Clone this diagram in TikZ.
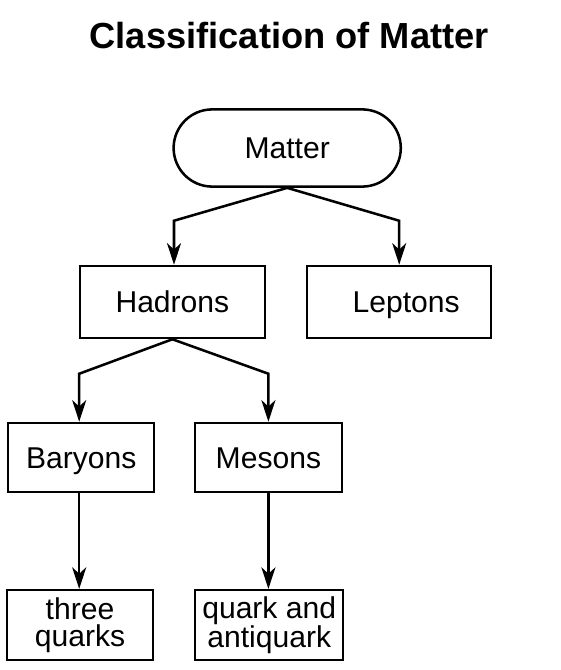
\documentclass[tikz,border=0pt]{standalone}
\usepackage{fontspec}
\setmainfont{Liberation Sans}
\usetikzlibrary{arrows.meta,positioning,shapes.misc}

\begin{document}
\begin{tikzpicture}[x=1cm,y=1cm]
\tikzset{
  boxnode/.style={rectangle,draw=black,line width=1.8pt,inner sep=1pt,align=center,font=\fontsize{21.4}{19.4}\selectfont},
  onelinenode/.style={boxnode,text height=15.4pt,text depth=0pt},
  rootnode/.style={onelinenode,rounded rectangle,minimum width=5.75cm,minimum height=1.93cm},
  titlenode/.style={font=\fontsize{25.8}{30}\selectfont\bfseries},
  flowedge/.style={draw=black,line width=1.8pt,line cap=round,line join=miter,-{Stealth[length=5.4mm,width=3.5mm,inset=1.6mm]}}
}
\useasboundingbox (0,0) rectangle (14,-16.75);
\node[titlenode] (n_title) at (7.23,-0.88) {Classification of Matter};
\node[rootnode] (n_matter) at (7.18,-3.70) {Matter};
\node[onelinenode,minimum width=4.63cm,minimum height=1.80cm] (n_hadrons) at (4.31,-7.55) {Hadrons};
\node[onelinenode,minimum width=4.60cm,minimum height=1.80cm] (n_leptons) at (9.98,-7.55) {\hspace*{0.35cm}Leptons};
\node[onelinenode,minimum width=3.65cm,minimum height=1.73cm] (n_baryons) at (2.03,-11.44) {Baryons};
\node[onelinenode,minimum width=3.68cm,minimum height=1.73cm] (n_mesons) at (6.71,-11.44) {Mesons};
\node[boxnode,minimum width=3.65cm,minimum height=1.75cm] (n_three) at (2.00,-15.63) {three\\quarks};
\node[boxnode,minimum width=3.70cm,minimum height=1.75cm] (n_pair) at (6.73,-15.63) {quark and\\antiquark};
\draw[flowedge] (n_matter.south) -- ([xshift=0.04cm,yshift=1.1cm]n_hadrons.north) -- ([xshift=0.04cm]n_hadrons.north);
\draw[flowedge] (n_matter.south) -- ([yshift=1.1cm]n_leptons.north) -- (n_leptons.north);
\draw[flowedge] (n_hadrons.south) -- ([xshift=-0.05cm,yshift=1.2cm]n_baryons.north) -- ([xshift=-0.05cm]n_baryons.north);
\draw[flowedge] (n_hadrons.south) -- ([yshift=1.2cm]n_mesons.north) -- (n_mesons.north);
\draw[flowedge] ([xshift=-0.05cm]n_baryons.south) -- ([xshift=-0.05cm]n_baryons.south |- n_three.north);
\draw[flowedge] (n_mesons.south) -- (n_mesons.south |- n_pair.north);
\end{tikzpicture}
\end{document}
